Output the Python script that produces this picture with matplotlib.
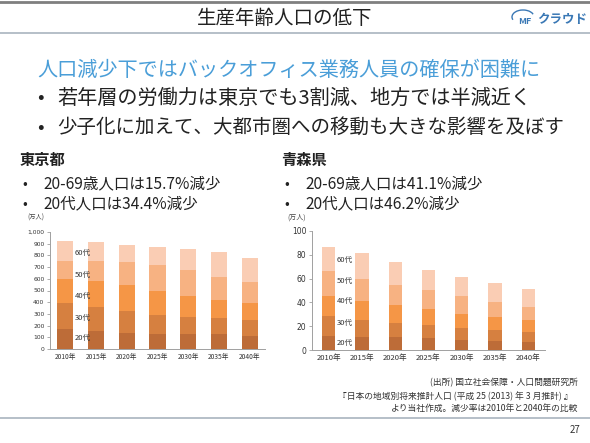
import matplotlib
matplotlib.use("Agg")
import matplotlib.pyplot as plt
import numpy as np
from matplotlib.patches import Arc

plt.rcParams['font.family'] = ['Noto Sans CJK JP', 'DejaVu Sans']

# ---------------- data ----------------
years = ['2010年', '2015年', '2020年', '2025年', '2030年', '2035年', '2040年']
age_labels = ['20代', '30代', '40代', '50代', '60代']

tokyo_20s = [174, 157, 137, 125, 125, 125, 114]
tokyo_30s = [219, 199, 185, 163, 146, 137, 134]
tokyo_40s = [205, 228, 222, 205, 185, 160, 145]
tokyo_50s = [154, 165, 197, 222, 216, 193, 177]
tokyo_60s = [171, 163, 145, 157, 186, 214, 208]

aomori_20s = [11.8, 10.6, 10.6, 10.1, 8.1, 7.3, 6.4]
aomori_30s = [16.8, 14.6, 11.8, 10.6, 10.7, 9.8, 8.4]
aomori_40s = [17.1, 16.0, 15.7, 14.0, 11.7, 10.4, 10.1]
aomori_50s = [20.7, 18.5, 16.5, 15.7, 14.9, 12.8, 11.5]
aomori_60s = [20.2, 21.5, 19.6, 16.8, 16.2, 16.3, 14.9]

tokyo_ticks = [0, 100, 200, 300, 400, 500, 600, 700, 800, 900, 1000]
aomori_ticks = [0, 20, 40, 60, 80, 100]

colors = ['#bd6c38', '#d68040', '#f59646', '#f7b282', '#facdb4']

W, H = 590, 443
fig = plt.figure(figsize=(W / 100, H / 100), dpi=100)
fig.patch.set_facecolor('white')


def px(x, y):
    return x / W, 1 - y / H


def txt(x, y, s, **kw):
    fx, fy = px(x, y)
    fig.text(fx, fy, s, **kw)


def hline(y, x0, x1, color, lw):
    fx0, fy = px(x0, y)
    fx1, _ = px(x1, y)
    fig.add_artist(plt.Line2D([fx0, fx1], [fy, fy], color=color, lw=lw,
                              transform=fig.transFigure))


# ---------------- slide decorations ----------------
hline(1.5, 0, W, '#7f7f7f', 2.0)
hline(33, 0, W, '#a9b4bf', 1.2)
hline(418, 0, W, '#a9b4bf', 1.2)

txt(285, 18, '生産年齢人口の低下', fontsize=14, ha='center', va='center', color='#222222')
txt(525, 21, 'MF', fontsize=6.5, ha='center', va='center', color='#3a78b5', fontweight='bold')
txt(537, 20, 'クラウド', fontsize=9, ha='left', va='center', color='#3a78b5',
    fontweight='bold')
cx, cy = px(523, 17)
fig.add_artist(Arc((cx, cy), 22 / W, 14 / H, theta1=20, theta2=200,
                   transform=fig.transFigure, color='#3a78b5', lw=1.0))

txt(37, 70, '人口減少下ではバックオフィス業務人員の確保が困難に', fontsize=14.5,
    ha='left', va='center', color='#4a9ed8')
txt(37, 98, '•', fontsize=14, ha='left', va='center', color='#222222')
txt(57, 98, '若年層の労働力は東京でも3割減、地方では半減近く', fontsize=14.5,
    ha='left', va='center', color='#222222')
txt(37, 127, '•', fontsize=14, ha='left', va='center', color='#222222')
txt(57, 127, '少子化に加えて、大都市圏への移動も大きな影響を及ぼす', fontsize=14,
    ha='left', va='center', color='#222222')

# region headers
bfs = 11.2
txt(20, 160, '東京都', fontsize=11, fontweight='bold', ha='left', va='center', color='#222222')
txt(22, 184, '•', fontsize=10, ha='left', va='center', color='#222222')
txt(43, 184, '20-69歳人口は15.7%減少', fontsize=bfs, ha='left', va='center', color='#222222')
txt(22, 204, '•', fontsize=10, ha='left', va='center', color='#222222')
txt(43, 204, '20代人口は34.4%減少', fontsize=bfs, ha='left', va='center', color='#222222')

txt(281, 160, '青森県', fontsize=11, fontweight='bold', ha='left', va='center', color='#222222')
txt(284, 184, '•', fontsize=10, ha='left', va='center', color='#222222')
txt(305, 184, '20-69歳人口は41.1%減少', fontsize=bfs, ha='left', va='center', color='#222222')
txt(284, 204, '•', fontsize=10, ha='left', va='center', color='#222222')
txt(305, 204, '20代人口は46.2%減少', fontsize=bfs, ha='left', va='center', color='#222222')

txt(27, 218, '(万人)', fontsize=4.5, ha='left', va='center', color='#444444')
txt(287, 218, '(万人)', fontsize=5, ha='left', va='center', color='#444444')

# source text
src_kw = dict(fontsize=6.3, ha='right', va='center', color='#333333')
txt(578, 383, '(出所) 国立社会保障・人口問題研究所', **src_kw)
txt(572, 396, '『日本の地域別将来推計人口 (平成 25 (2013) 年 3 月推計) 』', **src_kw)
txt(578, 408, 'より当社作成。減少率は2010年と2040年の比較', **src_kw)
txt(580, 430, '27', fontsize=7, ha='right', va='center', color='#333333')


# ---------------- charts ----------------
def stacked(ax, series, width, ticks, fmt, ylab_fs, xlab_fs, label_y, label_fs):
    x = np.arange(len(years))
    bottom = np.zeros(len(years))
    for vals, c in zip(series, colors):
        ax.bar(x, vals, width=width, bottom=bottom, color=c, edgecolor='none', zorder=2)
        bottom = bottom + np.array(vals)
    ax.set_xlim(-0.5, len(years) - 0.5)
    ax.set_ylim(ticks[0], ticks[-1])
    ax.set_yticks(ticks)
    ax.set_yticklabels([fmt(t) for t in ticks], fontsize=ylab_fs, color='#333333',
                       family=['DejaVu Sans'])
    ax.set_xticks(x)
    ax.set_xticklabels(years, fontsize=xlab_fs, color='#333333')
    ax.tick_params(axis='x', length=0, pad=3)
    ax.tick_params(axis='y', length=2, width=0.6, color='#a0a0a0', pad=2)
    for s in ['top', 'right']:
        ax.spines[s].set_visible(False)
    for s in ['left', 'bottom']:
        ax.spines[s].set_color('#a0a0a0')
        ax.spines[s].set_linewidth(0.7)
    ax.set_facecolor('none')
    for lab, yv in zip(age_labels, label_y):
        ax.text(width / 2 + 0.04, yv, lab, fontsize=label_fs, ha='left', va='center',
                color='#333333')


ax1 = fig.add_axes([50 / W, 1 - 349 / H, 215 / W, 117 / H])
stacked(ax1, [tokyo_20s, tokyo_30s, tokyo_40s, tokyo_50s, tokyo_60s], 0.53,
        tokyo_ticks, lambda t: f'{t:,}', 4.3, 4.8, [94, 265, 453, 632, 820], 5.5)

ax2 = fig.add_axes([312 / W, 1 - 350 / H, 233 / W, 119 / H])
stacked(ax2, [aomori_20s, aomori_30s, aomori_40s, aomori_50s, aomori_60s], 0.4,
        aomori_ticks, lambda t: f'{t}', 5.5, 5.5, [5.9, 22.7, 41, 58, 75.6], 5.5)

fig.savefig('out.png', dpi=100, facecolor='white')
